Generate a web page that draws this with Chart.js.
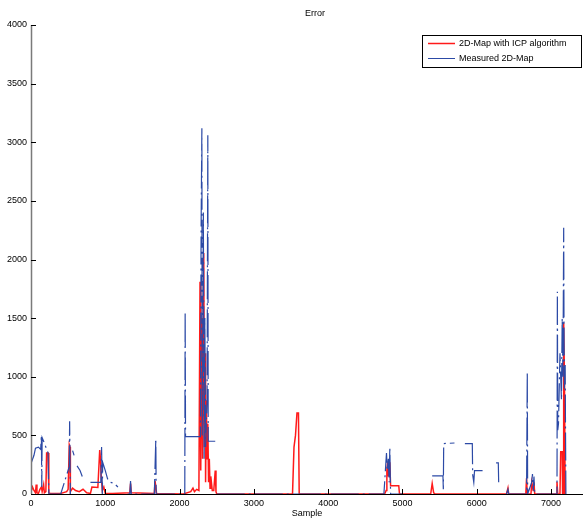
<!DOCTYPE html>
<html>
<head>
<meta charset="utf-8">
<script src="https://cdn.jsdelivr.net/npm/chart.js@4/dist/chart.umd.min.js"></script>
<style>
  html, body { margin: 0; padding: 0; background: #fff; }
  canvas { display: block; }
</style>
</head>
<body>
<canvas id="errorChart" width="583" height="519"></canvas>
<script>
// sample index / error values
const icpX = [0, 20, 40, 60, 70, 80, 100, 120, 140, 150, 170, 180, 200, 210, 230, 240, 260, 400, 480, 500, 515, 525, 530, 560, 600, 650, 700, 750, 800, 820, 900, 925, 935, 945, 960, 980, 1000, 1100, 1330, 1340, 1350, 1660, 1670, 1690,
  2050, 2150, 2180, 2200, 2230, 2260, 2275, 2285, 2300, 2310, 2325, 2335, 2345, 2350, 2360, 2370, 2380, 2390, 2400, 2410, 2420, 2440, 2460, 2480, 2490, 2500,
  3520, 3540, 3560, 3580, 3600, 3610, 4760, 4780, 4790, 4800, 4810, 4830, 4840, 4950, 4960, 5380, 5400, 5420, 5440, 6400, 6420, 6430,
  6660, 6670, 6680, 6730, 6740, 6760, 6770, 6780, 7070, 7080, 7090, 7120, 7130, 7150, 7155, 7165, 7170, 7180, 7190, 7200];
const icpY = [20, 60, 30, 10, 80, 10, 5, 40, 60, 20, 80, 10, 20, 350, 350, 10, 5, 5, 20, 40, 420, 400, 20, 50, 30, 20, 40, 10, 5, 60, 55, 375, 300, 150, 30, 60, 5, 5, 10, 90, 10, 5, 110, 5,
  0, 20, 50, 20, 40, 30, 1810, 200, 1500, 300, 2055, 400, 1200, 100, 800, 300, 600, 100, 300, 50, 150, 30, 30, 200, 20, 0,
  0, 400, 500, 690, 690, 0, 0, 30, 200, 270, 150, 270, 70, 70, 0, 0, 90, 10, 0, 0, 50, 0,
  0, 135, 0, 0, 100, 30, 100, 0, 0, 105, 0, 0, 360, 360, 0, 0, 1460, 1000, 0, 0];

const measX = [0, 40, 60, 100, 130, 140, 145, 150, 170, 200, 230, 240, 400, 515, 520, 530, 540, 560, 580, 600, 620, 660, 690, 700,
  800, 940, 950, 960, 965, 1000, 1030, 1070, 1120, 1170, 1200, 1300, 1330, 1340, 1350, 1660, 1680, 1685,
  2070, 2075, 2080, 2280, 2290, 2300, 2305, 2320, 2330, 2340, 2350, 2370, 2380, 2385, 2480, 2490, 2500, 4750, 4770, 4785, 4795, 4810, 4820, 4830, 4840, 5000,
  5390, 5400, 5545, 5550, 5555, 5700, 5800, 5840, 5940, 5945, 5960, 5970, 6080, 6100, 6260, 6290, 6295, 6350, 6400, 6420, 6430,
  6670, 6680, 6685, 6740, 6750, 6760, 6770, 6780, 7080, 7085, 7090, 7100, 7120, 7140, 7150, 7160, 7170, 7175, 7180, 7190, 7195, 7200];
const measY = [260, 330, 390, 400, 380, 500, 60, 480, 450, 400, 350, 0, 0, 233, 620, 0, null, 370, 330, null, 240, 200, 150, null,
  100, 100, 400, 0, 270, 200, 130, 100, 90, 60, null, 0, 0, 110, 0, 0, 470, 0,
  0, 1555, 490, 490, 2300, 3120, 500, 2400, 300, 1500, 400, 800, 3060, 450, 450, null, 0, 0, 200, 350, 200, 300, 100, 400, 0, 0,
  null, 154, 154, 40, 430, 435, null, 430, 430, 165, 100, 200, 200, null, 265, 265, 100, null, 0, 40, 0,
  0, 1040, 0, 100, 170, 30, 150, 0, 0, 1725, 545, 600, 1200, 800, 1500, 1000, 2270, 1300, 900, 1100, 500, 0];

const xTicks = [0, 1000, 2000, 3000, 4000, 5000, 6000, 7000];
const yTicks = [0, 500, 1000, 1500, 2000, 2500, 3000, 3500, 4000];
const seriesNames = ["2D-Map with ICP algorithm", "Measured 2D-Map"];
const chartTitle = "Error";

const RED = "#ff1a1a";
const BLUE = "#2c4aa6";
const FONT = "'Liberation Sans', Arial, sans-serif";

function toPoints(xs, ys) {
  return xs.map((x, i) => ({ x: x, y: ys[i] }));
}

// matlab style inner ticks + axis lines + title
const axesPlugin = {
  id: "matlabAxes",
  afterDatasetsDraw(chart) {
    const { ctx, chartArea, scales } = chart;
    ctx.save();
    ctx.strokeStyle = "#000";
    ctx.lineWidth = 1;
    ctx.beginPath();
    ctx.moveTo(chartArea.left, chartArea.bottom + 0.5);
    ctx.lineTo(chartArea.right, chartArea.bottom + 0.5);
    ctx.stroke();
    xTicks.forEach(v => {
      const px = Math.round(scales.x.getPixelForValue(v)) + 0.5;
      ctx.beginPath();
      ctx.moveTo(px, chartArea.bottom);
      ctx.lineTo(px, chartArea.bottom - 5);
      ctx.stroke();
    });
    ctx.strokeStyle = "#7a7a7a";
    ctx.lineWidth = 1.5;
    ctx.beginPath();
    ctx.moveTo(chartArea.left + 0.5, chartArea.top);
    ctx.lineTo(chartArea.left + 0.5, chartArea.bottom);
    ctx.stroke();
    ctx.strokeStyle = "#000";
    ctx.lineWidth = 1;
    yTicks.forEach(v => {
      const py = Math.round(scales.y.getPixelForValue(v)) + 0.5;
      ctx.beginPath();
      ctx.moveTo(chartArea.left, py);
      ctx.lineTo(chartArea.left + 5, py);
      ctx.stroke();
    });
    // title sits over the (wider, cropped) matlab axes, not the canvas centre
    ctx.fillStyle = "#000";
    ctx.font = "9px " + FONT;
    ctx.textAlign = "center";
    ctx.textBaseline = "middle";
    ctx.fillText(chartTitle, 315, 14);
    ctx.restore();
  }
};

// legend box in the upper right corner
const legendPlugin = {
  id: "boxLegend",
  afterDraw(chart) {
    const { ctx } = chart;
    const x0 = 422.5, y0 = 35.5, w = 159, h = 32;
    ctx.save();
    ctx.fillStyle = "#fff";
    ctx.fillRect(x0, y0, w, h);
    ctx.strokeStyle = "#000";
    ctx.lineWidth = 1;
    ctx.strokeRect(x0, y0, w, h);
    ctx.font = "9px " + FONT;
    ctx.textBaseline = "middle";
    ctx.fillStyle = "#000";
    const colors = [RED, BLUE];
    seriesNames.forEach((name, i) => {
      const y = 43.5 + i * 15;
      ctx.strokeStyle = colors[i];
      ctx.lineWidth = i === 0 ? 1.5 : 1;
      ctx.beginPath();
      ctx.moveTo(428, y);
      ctx.lineTo(455, y);
      ctx.stroke();
      ctx.fillText(name, 459, y);
    });
    ctx.restore();
  }
};

new Chart(document.getElementById("errorChart"), {
  type: "line",
  data: {
    datasets: [{
      label: seriesNames[0],
      data: toPoints(icpX, icpY),
      borderColor: RED,
      borderWidth: 1.5,
      pointRadius: 0,
      spanGaps: false,
      order: 1
    }, {
      label: seriesNames[1],
      data: toPoints(measX, measY),
      borderColor: BLUE,
      borderWidth: 1.2,
      borderDash: [28, 4, 2, 4],
      pointRadius: 0,
      spanGaps: false,
      order: 0
    }]
  },
  options: {
    responsive: false,
    devicePixelRatio: 1,
    animation: false,
    layout: { padding: { left: 0, right: 0, top: 25, bottom: 0 } },
    plugins: {
      legend: { display: false },
      tooltip: { enabled: false },
      title: { display: false }
    },
    scales: {
      x: {
        type: "linear",
        min: 0,
        max: 7430,
        border: { display: false },
        grid: { display: false, drawTicks: false },
        afterBuildTicks: s => { s.ticks = xTicks.map(v => ({ value: v })); },
        ticks: {
          autoSkip: false,
          padding: 4,
          color: "#000",
          maxRotation: 0,
          font: { family: FONT, size: 9 },
          callback: v => String(v)
        },
        title: {
          display: true,
          text: "Sample",
          color: "#000",
          font: { family: FONT, size: 9 },
          padding: { top: 0, bottom: 0 }
        },
        afterFit: s => { s.height = 25; }
      },
      y: {
        min: 0,
        max: 4000,
        border: { display: false },
        grid: { display: false, drawTicks: false },
        afterBuildTicks: s => { s.ticks = yTicks.map(v => ({ value: v })); },
        ticks: {
          autoSkip: false,
          padding: 4,
          color: "#000",
          font: { family: FONT, size: 9 },
          callback: v => String(v)
        },
        afterFit: s => { s.width = 31; }
      }
    }
  },
  plugins: [axesPlugin, legendPlugin]
});
</script>
</body>
</html>
